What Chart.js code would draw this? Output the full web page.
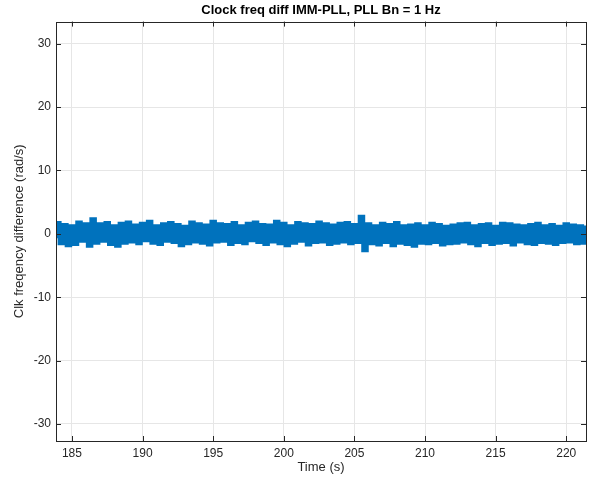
<!DOCTYPE html>
<html>
<head>
<meta charset="utf-8">
<title>Clock freq diff IMM-PLL</title>
<script src="https://cdn.jsdelivr.net/npm/chart.js@4.4.1/dist/chart.umd.min.js"></script>
<style>
    html, body { margin: 0; padding: 0; background: #ffffff; }
    #chartWrap { width: 589px; height: 478px; }
</style>
</head>
<body>
<div id="chartWrap"><canvas id="clkChart" width="589" height="478"></canvas></div>
<script>
/*Sample times (s)*/
var timeValues = [
    183.75,
    184, 184.25, 184.5, 184.75,
    185, 185.25, 185.5, 185.75,
    186, 186.25, 186.5, 186.75,
    187, 187.25, 187.5, 187.75,
    188, 188.25, 188.5, 188.75,
    189, 189.25, 189.5, 189.75,
    190, 190.25, 190.5, 190.75,
    191, 191.25, 191.5, 191.75,
    192, 192.25, 192.5, 192.75,
    193, 193.25, 193.5, 193.75,
    194, 194.25, 194.5, 194.75,
    195, 195.25, 195.5, 195.75,
    196, 196.25, 196.5, 196.75,
    197, 197.25, 197.5, 197.75,
    198, 198.25, 198.5, 198.75,
    199, 199.25, 199.5, 199.75,
    200, 200.25, 200.5, 200.75,
    201, 201.25, 201.5, 201.75,
    202, 202.25, 202.5, 202.75,
    203, 203.25, 203.5, 203.75,
    204, 204.25, 204.5, 204.75,
    205, 205.25, 205.5, 205.75,
    206, 206.25, 206.5, 206.75,
    207, 207.25, 207.5, 207.75,
    208, 208.25, 208.5, 208.75,
    209, 209.25, 209.5, 209.75,
    210, 210.25, 210.5, 210.75,
    211, 211.25, 211.5, 211.75,
    212, 212.25, 212.5, 212.75,
    213, 213.25, 213.5, 213.75,
    214, 214.25, 214.5, 214.75,
    215, 215.25, 215.5, 215.75,
    216, 216.25, 216.5, 216.75,
    217, 217.25, 217.5, 217.75,
    218, 218.25, 218.5, 218.75,
    219, 219.25, 219.5, 219.75,
    220, 220.25, 220.5, 220.75,
    221, 221.25, 221.5
];
/*Clock frequency difference (rad/s)*/
var freqDiff = [
    -0.4,
    1.7, -1.5, 1.4, -1.8,
    1.2, -1.6, 1.8, -1.1,
    1.5, -1.9, 2.3, -1.4,
    1.5, -1.1, 1.7, -1.6,
    1.2, -1.9, 1.6, -1.4,
    1.8, -1.2, 1.3, -1.5,
    1.6, -1.0, 1.9, -1.4,
    1.2, -1.6, 1.5, -1.1,
    1.7, -1.3, 1.4, -1.8,
    1.1, -1.5, 1.8, -1.2,
    1.5, -1.4, 1.3, -1.7,
    1.9, -1.2, 1.5, -1.1,
    1.4, -1.6, 1.7, -1.3,
    1.2, -1.5, 1.6, -1.0,
    1.8, -1.3, 1.4, -1.6,
    1.3, -1.2, 1.9, -1.5,
    1.6, -1.8, 1.2, -1.4,
    1.7, -1.1, 1.5, -1.7,
    1.4, -1.3, 1.8, -1.2,
    1.5, -1.6, 1.3, -1.4,
    1.6, -1.2, 1.7, -1.5,
    1.4, -1.3, 2.7, -2.6,
    1.5, -1.5, 1.2, -1.7,
    1.6, -1.3, 1.4, -1.8,
    1.7, -1.4, 1.2, -1.6,
    1.3, -1.9, 1.5, -1.4,
    1.2, -1.5, 1.6, -1.3,
    1.4, -1.7, 1.1, -1.5,
    1.3, -1.4, 1.5, -1.2,
    1.6, -1.5, 1.2, -1.8,
    1.4, -1.3, 1.5, -1.6,
    1.1, -1.4, 1.6, -1.3,
    1.5, -1.7, 1.3, -1.2,
    1.2, -1.5, 1.4, -1.6,
    1.6, -1.3, 1.2, -1.4,
    1.4, -1.6, 1.1, -1.3,
    1.5, -1.2, 1.3, -1.5,
    1.2, -1.4, 1.0
];
/*Tick labels*/
var xTickValues = [185, 190, 195, 200, 205, 210, 215, 220];
var yTickValues = [-30, -20, -10, 0, 10, 20, 30];

var axisColor = '#262626';
var gridColor = '#e6e6e6';
var fontFamily = "'Liberation Sans', Arial, Helvetica, sans-serif";

/*Box and inner tick marks, matlab style*/
var boxPlugin = {
    id: 'boxPlugin',
    afterDatasetsDraw: function (chart) {
        var ctx = chart.ctx;
        var area = chart.chartArea;
        var xs = chart.scales.x;
        var ys = chart.scales.y;
        var len = 5;
        ctx.save();
        ctx.strokeStyle = axisColor;
        ctx.lineWidth = 1;
        ctx.beginPath();
        xTickValues.forEach(function (v) {
            var px = Math.round(xs.getPixelForValue(v)) + 0.5;
            ctx.moveTo(px, area.bottom);
            ctx.lineTo(px, area.bottom - len);
            ctx.moveTo(px, area.top);
            ctx.lineTo(px, area.top + len);
        });
        yTickValues.forEach(function (v) {
            var py = Math.round(ys.getPixelForValue(v)) + 0.5;
            ctx.moveTo(area.left, py);
            ctx.lineTo(area.left + len, py);
            ctx.moveTo(area.right, py);
            ctx.lineTo(area.right - len, py);
        });
        ctx.stroke();
        ctx.strokeRect(Math.round(area.left) + 0.5, Math.round(area.top) + 0.5,
            Math.round(area.right - area.left), Math.round(area.bottom - area.top));
        ctx.restore();
    }
};

function DrawClockChart() {
    var points = [];
    for (var i = 0; i < timeValues.length; i++) {
        points.push({ x: timeValues[i], y: freqDiff[i] });
    }
    var chartDiv = document.getElementById('clkChart');
    var myChart = new Chart(chartDiv, {
        type: 'line',
        data: {
            datasets: [
                {
                    data: points,
                    borderColor: '#0072BD',
                    borderWidth: 4,
                    borderJoinStyle: 'miter',
                    stepped: 'middle',
                    pointRadius: 0,
                    fill: false
                }]
        },
        plugins: [boxPlugin],
        options: {
            responsive: false,
            animation: false,
            layout: {
                padding: { left: 0, right: 3, top: 0, bottom: 0 }
            },
            plugins: {
                legend: { display: false },
                tooltip: { enabled: false },
                title: {
                    display: true,
                    fullSize: false,
                    text: 'Clock freq diff IMM-PLL, PLL Bn = 1 Hz',
                    color: '#000000',
                    font: { family: fontFamily, size: 13, weight: 'bold' },
                    padding: { top: 3, bottom: 3 }
                }
            },
            scales: {
                x: {
                    type: 'linear',
                    min: 183.87,
                    max: 221.4,
                    afterBuildTicks: function (axis) {
                        axis.ticks = xTickValues.map(function (v) { return { value: v }; });
                    },
                    afterFit: function (axis) {
                        axis.height = 37;
                    },
                    grid: { color: gridColor, drawTicks: false },
                    border: { display: false },
                    ticks: {
                        color: axisColor,
                        padding: 5,
                        maxRotation: 0,
                        font: { family: fontFamily, size: 12 }
                    },
                    title: {
                        display: true,
                        text: 'Time (s)',
                        color: axisColor,
                        font: { family: fontFamily, size: 13 },
                        padding: { top: 0, bottom: 3 }
                    }
                },
                y: {
                    type: 'linear',
                    min: -32.7,
                    max: 33.5,
                    afterBuildTicks: function (axis) {
                        axis.ticks = yTickValues.map(function (v) { return { value: v }; });
                    },
                    afterFit: function (axis) {
                        axis.width = 56;
                    },
                    grid: { color: gridColor, drawTicks: false },
                    border: { display: false },
                    ticks: {
                        color: axisColor,
                        padding: 5,
                        font: { family: fontFamily, size: 12 }
                    },
                    title: {
                        display: true,
                        text: 'Clk freqency difference (rad/s)',
                        color: axisColor,
                        font: { family: fontFamily, size: 13 },
                        padding: { top: 12, bottom: 0 }
                    }
                }
            }
        }
    });
}

DrawClockChart();
</script>
</body>
</html>
